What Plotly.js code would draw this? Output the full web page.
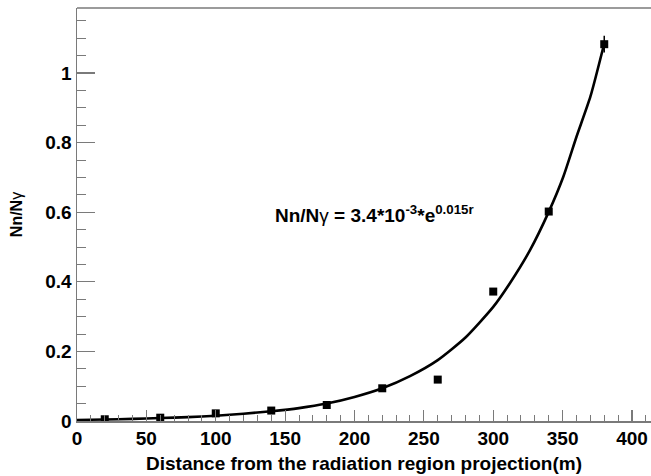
<!DOCTYPE html>
<html>
<head>
<meta charset="utf-8">
<script src="https://cdn.plot.ly/plotly-3.0.1.min.js"></script>
<style>html,body{margin:0;padding:0;background:#fff;}#chart{width:651px;height:476px;}</style>
</head>
<body>
<div id="chart"></div>
<script>
// measured points
const distance = [20, 60, 100, 140, 180, 220, 260, 300, 340, 380];
const ratio = [0.005, 0.0095, 0.022, 0.030, 0.046, 0.094, 0.119, 0.372, 0.602, 1.083];
const ratioErr = [0.002, 0.002, 0.003, 0.003, 0.003, 0.004, 0.004, 0.006, 0.008, 0.024];
// fit curve
const fitX = [0, 20, 40, 60, 80, 100, 120, 140, 160, 180, 200, 220, 240, 260, 280, 300, 312, 326.5, 340, 350.5, 360, 370, 380];
const fitY = [0.003, 0.0045, 0.006, 0.0085, 0.011, 0.015, 0.021, 0.028, 0.037, 0.050, 0.069, 0.094, 0.129, 0.175, 0.240, 0.328, 0.396, 0.491, 0.601, 0.702, 0.817, 0.932, 1.085];
const xTitle = 'Distance from the radiation region projection(m)';
const yTitle = 'Nn/N<span style="font-weight:normal">γ</span>';
const fitLabel = 'Nn/N<span style="font-weight:normal">γ</span> = 3.4*10<sup>-3</sup>*e<sup>0.015r</sup>';

const boldFont = {family: 'Liberation Sans, Arial, sans-serif', color: '#000', weight: 'bold'};
const axisGray = '#7a7a7a';
const xRange = [0, 413.7];
const yRange = [0, 1.187];

const traces = [
  {x: fitX, y: fitY, type: 'scatter', mode: 'lines', line: {color: '#000', width: 2.6, shape: 'spline', smoothing: 0.6}, hoverinfo: 'skip'},
  {x: distance, y: ratio, type: 'scatter', mode: 'markers',
   marker: {symbol: 'square', size: 8, color: '#000'},
   error_y: {type: 'data', array: ratioErr, visible: true, color: '#000', thickness: 1.5, width: 0}},
  // invisible trace to host the minor-tick axes
  {x: [0], y: [0], xaxis: 'x2', yaxis: 'y2', type: 'scatter', mode: 'markers', marker: {opacity: 0}, hoverinfo: 'skip'}
];

const layout = {
  width: 651, height: 476,
  margin: {l: 77, r: 0, t: 8, b: 55},
  paper_bgcolor: '#fff', plot_bgcolor: '#fff',
  showlegend: false,
  xaxis: {
    range: xRange, showgrid: false, zeroline: false,
    showline: true, linecolor: axisGray, linewidth: 1.5,
    ticks: 'inside', ticklen: 11, tickwidth: 1.2, tickcolor: axisGray,
    dtick: 50, tick0: 0,
    tickfont: Object.assign({size: 19}, boldFont),
    title: {text: xTitle, font: Object.assign({size: 19}, boldFont), standoff: 8}
  },
  yaxis: {
    range: yRange, showgrid: false, zeroline: false,
    showline: true, linecolor: axisGray, linewidth: 1.5,
    ticks: 'inside', ticklen: 18, tickwidth: 1.2, tickcolor: axisGray,
    dtick: 0.2, tick0: 0,
    tickfont: Object.assign({size: 19}, boldFont),
    title: {text: yTitle, font: Object.assign({size: 16}, boldFont), standoff: 18}
  },
  xaxis2: {
    overlaying: 'x', side: 'bottom', anchor: 'y2', range: xRange,
    showgrid: false, zeroline: false, showline: false, showticklabels: false,
    ticks: 'inside', ticklen: 6, tickwidth: 1, tickcolor: axisGray, dtick: 10, tick0: 0
  },
  yaxis2: {
    overlaying: 'y', side: 'left', anchor: 'x2', range: yRange,
    showgrid: false, zeroline: false, showline: false, showticklabels: false,
    ticks: 'inside', ticklen: 9, tickwidth: 1, tickcolor: axisGray, dtick: 0.05, tick0: 0
  },
  shapes: [{type: 'line', xref: 'paper', yref: 'paper', x0: 0, x1: 1, y0: 1, y1: 1, line: {color: axisGray, width: 1.5}}],
  annotations: [{
    xref: 'paper', yref: 'paper', x: (273 - 77) / 574, y: (421 - 214) / 413,
    xanchor: 'left', yanchor: 'middle', showarrow: false,
    text: fitLabel, font: Object.assign({size: 19}, boldFont)
  }]
};

Plotly.newPlot('chart', traces, layout, {displayModeBar: false, staticPlot: true});
</script>
</body>
</html>
